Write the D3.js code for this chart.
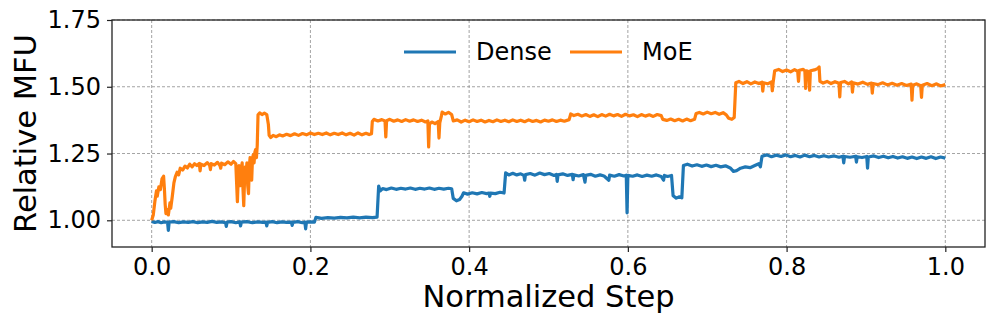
<!DOCTYPE html>
<html>
<head>
<meta charset="utf-8">
<script src="https://cdn.jsdelivr.net/npm/d3@7"></script>
<style>
  body { margin: 0; background: #fff; }
  svg { font-family: "DejaVu Sans", sans-serif; }
</style>
</head>
<body>
<script>
// values: [normalized step, relative MFU]
const dense = [
  [0.000,0.996],[0.004,0.992],[0.008,0.995],[0.012,0.991],[0.016,0.994],[0.020,0.992],[0.021,0.962],[0.022,0.993],
  [0.028,0.995],[0.034,0.991],[0.040,0.994],[0.046,0.992],[0.052,0.995],[0.058,0.991],[0.064,0.994],[0.070,0.992],
  [0.076,0.996],[0.082,0.992],[0.088,0.994],[0.093,0.991],[0.094,0.977],[0.095,0.993],[0.100,0.995],[0.106,0.991],
  [0.111,0.994],[0.112,0.979],[0.113,0.993],[0.120,0.995],[0.127,0.991],[0.134,0.994],[0.140,0.992],[0.144,0.993],
  [0.145,0.979],[0.146,0.992],[0.152,0.995],[0.158,0.991],[0.164,0.994],[0.170,0.992],[0.176,0.993],[0.177,0.981],
  [0.178,0.992],[0.184,0.995],[0.190,0.991],[0.193,0.993],[0.194,0.968],[0.195,0.993],[0.200,0.994],[0.205,0.993],
  [0.207,1.011],[0.214,1.007],[0.222,1.010],[0.230,1.008],[0.238,1.011],[0.246,1.009],[0.254,1.012],[0.262,1.009],
  [0.270,1.012],[0.278,1.010],[0.284,1.012],
  [0.286,1.128],[0.288,1.110],[0.291,1.119],[0.296,1.115],[0.302,1.121],[0.308,1.116],[0.314,1.120],[0.320,1.117],
  [0.326,1.121],[0.332,1.116],[0.338,1.120],[0.344,1.117],[0.350,1.121],[0.356,1.116],[0.362,1.120],[0.368,1.117],
  [0.374,1.120],[0.378,1.118],[0.380,1.082],[0.384,1.073],[0.388,1.078],[0.391,1.090],[0.393,1.103],[0.398,1.098],
  [0.404,1.103],[0.410,1.099],[0.416,1.104],[0.422,1.100],[0.425,1.102],[0.426,1.090],[0.427,1.102],[0.433,1.100],
  [0.439,1.105],[0.444,1.102],
  [0.446,1.178],[0.450,1.170],[0.455,1.176],[0.460,1.170],[0.465,1.174],[0.469,1.168],[0.470,1.150],[0.471,1.171],
  [0.477,1.175],[0.483,1.169],[0.489,1.177],[0.495,1.171],[0.501,1.175],[0.507,1.168],[0.510,1.172],[0.511,1.146],
  [0.512,1.170],[0.518,1.174],[0.524,1.168],[0.530,1.172],[0.531,1.152],[0.532,1.170],[0.538,1.166],[0.544,1.171],
  [0.546,1.143],[0.547,1.168],[0.553,1.172],[0.559,1.165],[0.565,1.170],[0.570,1.166],[0.576,1.150],[0.577,1.169],
  [0.583,1.165],[0.589,1.171],[0.595,1.166],[0.598,1.169],[0.599,1.028],[0.600,1.168],[0.606,1.165],[0.612,1.170],
  [0.618,1.164],[0.624,1.169],[0.630,1.165],[0.636,1.170],[0.642,1.164],[0.645,1.150],[0.646,1.168],[0.650,1.164],
  [0.655,1.168],
  [0.657,1.092],[0.661,1.083],[0.665,1.088],[0.668,1.084],[0.670,1.205],[0.675,1.210],[0.681,1.203],[0.687,1.208],
  [0.693,1.202],[0.699,1.207],[0.705,1.201],[0.711,1.206],[0.717,1.200],[0.723,1.204],[0.729,1.196],[0.733,1.183],
  [0.737,1.186],[0.742,1.195],[0.748,1.200],[0.754,1.197],[0.760,1.205],[0.765,1.212],[0.767,1.200],[0.769,1.240],
  [0.775,1.245],[0.781,1.238],[0.787,1.244],[0.793,1.239],[0.799,1.245],[0.805,1.238],[0.811,1.243],[0.817,1.237],
  [0.823,1.244],[0.829,1.238],[0.835,1.243],[0.841,1.237],[0.847,1.242],[0.853,1.237],[0.860,1.241],[0.866,1.236],
  [0.871,1.240],[0.872,1.215],[0.873,1.239],[0.880,1.236],[0.887,1.240],[0.888,1.218],[0.889,1.238],[0.895,1.235],
  [0.901,1.239],[0.902,1.195],[0.903,1.237],[0.910,1.241],[0.916,1.235],[0.922,1.240],[0.928,1.234],[0.934,1.239],
  [0.940,1.233],[0.946,1.238],[0.952,1.232],[0.958,1.237],[0.964,1.231],[0.970,1.237],[0.976,1.232],[0.982,1.238],
  [0.988,1.231],[0.994,1.237],[1.000,1.233]
];

const moe = [
  [0.000,1.000],[0.002,1.020],[0.004,1.070],[0.006,1.110],[0.007,1.090],[0.009,1.125],[0.011,1.115],[0.013,1.155],
  [0.015,1.165],[0.016,1.120],[0.017,1.060],[0.018,1.025],[0.020,1.040],[0.021,1.020],[0.023,1.065],[0.024,1.045],
  [0.026,1.090],[0.028,1.140],[0.030,1.165],[0.032,1.180],[0.034,1.170],[0.036,1.195],[0.039,1.188],[0.042,1.203],
  [0.045,1.196],[0.048,1.210],[0.051,1.200],[0.054,1.212],[0.057,1.205],[0.060,1.213],[0.061,1.185],[0.062,1.210],
  [0.066,1.205],[0.070,1.216],[0.073,1.206],[0.074,1.190],[0.075,1.212],[0.079,1.207],[0.083,1.217],[0.086,1.205],
  [0.087,1.195],[0.088,1.214],[0.092,1.208],[0.096,1.219],[0.100,1.210],[0.103,1.220],[0.106,1.212],[0.108,1.070],
  [0.109,1.150],[0.110,1.205],[0.111,1.180],[0.112,1.130],[0.113,1.195],[0.114,1.215],[0.115,1.120],[0.116,1.055],
  [0.117,1.150],[0.118,1.200],[0.119,1.170],[0.120,1.215],[0.121,1.130],[0.122,1.100],[0.123,1.200],[0.124,1.235],
  [0.125,1.180],[0.126,1.150],[0.127,1.230],[0.128,1.245],[0.129,1.215],[0.130,1.255],[0.131,1.265],[0.132,1.235],
  [0.133,1.280],[0.134,1.395],[0.136,1.402],[0.139,1.396],[0.142,1.401],[0.145,1.396],[0.147,1.360],[0.148,1.318],
  [0.150,1.310],[0.153,1.318],[0.157,1.313],[0.161,1.320],[0.165,1.316],[0.170,1.322],[0.175,1.317],[0.180,1.324],
  [0.185,1.318],[0.190,1.325],[0.195,1.320],[0.200,1.327],[0.205,1.321],[0.210,1.326],[0.215,1.321],[0.220,1.327],
  [0.225,1.320],[0.230,1.326],[0.235,1.321],[0.240,1.327],[0.245,1.320],[0.250,1.326],[0.255,1.319],[0.260,1.327],
  [0.265,1.320],[0.270,1.326],[0.274,1.321],[0.277,1.324],[0.278,1.370],[0.280,1.378],[0.285,1.372],[0.290,1.377],
  [0.294,1.372],[0.295,1.312],[0.296,1.373],[0.300,1.378],[0.305,1.371],[0.310,1.376],[0.315,1.370],[0.320,1.377],
  [0.325,1.371],[0.330,1.376],[0.335,1.370],[0.340,1.375],[0.345,1.368],[0.348,1.372],[0.349,1.275],[0.350,1.360],
  [0.353,1.368],[0.357,1.362],[0.361,1.370],[0.362,1.308],[0.363,1.365],[0.365,1.390],[0.366,1.405],[0.370,1.398],
  [0.374,1.404],[0.378,1.396],[0.380,1.372],[0.385,1.376],[0.390,1.368],[0.395,1.375],[0.400,1.369],[0.405,1.376],
  [0.410,1.370],[0.415,1.375],[0.420,1.368],[0.425,1.374],[0.430,1.369],[0.435,1.376],[0.440,1.370],[0.445,1.375],
  [0.450,1.369],[0.455,1.376],[0.460,1.370],[0.465,1.375],[0.470,1.369],[0.475,1.376],[0.480,1.370],[0.485,1.374],
  [0.490,1.368],[0.495,1.375],[0.500,1.371],[0.505,1.376],[0.510,1.370],[0.515,1.375],[0.520,1.371],[0.526,1.377],
  [0.528,1.398],[0.532,1.392],[0.537,1.397],[0.542,1.390],[0.547,1.396],[0.552,1.389],[0.557,1.395],[0.562,1.388],
  [0.567,1.396],[0.572,1.390],[0.577,1.397],[0.582,1.391],[0.587,1.396],[0.592,1.389],[0.597,1.397],[0.602,1.391],
  [0.607,1.395],[0.612,1.388],[0.617,1.396],[0.622,1.390],[0.627,1.395],[0.632,1.389],[0.637,1.396],[0.642,1.392],
  [0.644,1.378],[0.649,1.374],[0.654,1.379],[0.659,1.373],[0.664,1.378],[0.669,1.372],[0.674,1.379],[0.679,1.373],
  [0.684,1.378],[0.686,1.400],[0.690,1.404],[0.695,1.398],[0.700,1.405],[0.705,1.399],[0.710,1.404],[0.715,1.397],
  [0.720,1.403],[0.724,1.395],[0.727,1.382],[0.731,1.378],[0.734,1.385],[0.736,1.515],[0.740,1.520],[0.745,1.512],
  [0.750,1.519],[0.755,1.511],[0.760,1.518],[0.765,1.512],[0.769,1.517],[0.770,1.484],[0.771,1.515],[0.776,1.511],
  [0.781,1.518],[0.782,1.485],[0.783,1.515],[0.785,1.560],[0.790,1.565],[0.795,1.557],[0.800,1.563],[0.805,1.556],
  [0.810,1.564],[0.814,1.558],[0.815,1.520],[0.816,1.562],[0.821,1.565],[0.823,1.560],[0.824,1.494],[0.825,1.560],
  [0.828,1.556],[0.829,1.487],[0.830,1.560],[0.835,1.563],[0.839,1.568],[0.841,1.574],[0.842,1.520],[0.846,1.514],
  [0.851,1.520],[0.856,1.512],[0.861,1.519],[0.866,1.513],[0.867,1.462],[0.868,1.516],[0.873,1.520],[0.878,1.511],
  [0.882,1.518],[0.883,1.480],[0.884,1.515],[0.890,1.510],[0.896,1.517],[0.902,1.509],[0.907,1.514],[0.908,1.476],
  [0.909,1.512],[0.915,1.508],[0.921,1.515],[0.927,1.507],[0.933,1.513],[0.939,1.506],[0.945,1.512],[0.951,1.505],
  [0.957,1.510],[0.958,1.450],[0.959,1.506],[0.964,1.511],[0.969,1.504],[0.970,1.460],[0.971,1.506],[0.977,1.512],
  [0.983,1.504],[0.989,1.511],[0.994,1.503],[1.000,1.508]
];

const seriesNames = ["Dense", "MoE"];
const seriesColors = ["#1f77b4", "#ff7f0e"];
const xTicks = [0.0, 0.2, 0.4, 0.6, 0.8, 1.0];
const yTicks = [1.00, 1.25, 1.50, 1.75];

const width = 996, height = 328;
const margin = { top: 20, right: 11, bottom: 81, left: 112 };
const plotW = width - margin.left - margin.right;
const plotH = height - margin.top - margin.bottom;

const svg = d3.select("body").append("svg")
  .attr("width", width)
  .attr("height", height);

const x = d3.scaleLinear().domain([-0.05, 1.05]).range([0, plotW]);
const y = d3.scaleLinear().domain([0.9, 1.75]).range([plotH, 0]);

const g = svg.append("g")
  .attr("transform", `translate(${margin.left},${margin.top})`);

// grid
g.append("g").selectAll("line").data(xTicks).join("line")
  .attr("x1", d => x(d)).attr("x2", d => x(d))
  .attr("y1", 0).attr("y2", plotH)
  .attr("stroke", "#8c8c8c").attr("stroke-width", 0.8)
  .attr("stroke-dasharray", "3,2");
g.append("g").selectAll("line").data(yTicks).join("line")
  .attr("x1", 0).attr("x2", plotW)
  .attr("y1", d => y(d)).attr("y2", d => y(d))
  .attr("stroke", "#8c8c8c").attr("stroke-width", 0.8)
  .attr("stroke-dasharray", "3,2");

// lines
svg.append("defs").append("clipPath").attr("id", "clip")
  .append("rect").attr("width", plotW).attr("height", plotH);

const line = d3.line().x(d => x(d[0])).y(d => y(d[1]));

[dense, moe].forEach((data, i) => {
  g.append("path")
    .datum(data)
    .attr("clip-path", "url(#clip)")
    .attr("fill", "none")
    .attr("stroke", seriesColors[i])
    .attr("stroke-width", 3.2)
    .attr("stroke-linejoin", "round")
    .attr("d", line);
});

// axes
const xAxis = g.append("g")
  .attr("transform", `translate(0,${plotH})`)
  .call(d3.axisBottom(x).tickValues(xTicks).tickFormat(d3.format(".1f")).tickSize(5).tickPadding(6));
const yAxis = g.append("g")
  .call(d3.axisLeft(y).tickValues(yTicks).tickFormat(d3.format(".2f")).tickSize(5).tickPadding(6));

[xAxis, yAxis].forEach(ax => {
  ax.select(".domain").remove();
  ax.selectAll("line").attr("stroke", "#222").attr("stroke-width", 1.2);
  ax.selectAll("text")
    .attr("font-family", "DejaVu Sans")
    .attr("font-size", 24)
    .attr("fill", "#000");
});

// frame
g.append("rect")
  .attr("width", plotW).attr("height", plotH)
  .attr("fill", "none").attr("stroke", "#222").attr("stroke-width", 1.3);

// axis labels
svg.append("text")
  .attr("x", margin.left + x(0.5))
  .attr("y", 307)
  .attr("text-anchor", "middle")
  .attr("font-size", 30.5)
  .text("Normalized Step");

svg.append("text")
  .attr("transform", `translate(36,${margin.top + plotH / 2}) rotate(-90)`)
  .attr("text-anchor", "middle")
  .attr("font-size", 30.5)
  .text("Relative MFU");

// legend
const legend = svg.append("g").attr("transform", "translate(404,52)");
const legendX = [0, 166];
seriesNames.forEach((name, i) => {
  const item = legend.append("g").attr("transform", `translate(${legendX[i]},0)`);
  item.append("line")
    .attr("x1", 0).attr("x2", 52)
    .attr("stroke", seriesColors[i]).attr("stroke-width", 2.8);
  item.append("text")
    .attr("x", 72).attr("y", 0)
    .attr("dominant-baseline", "central")
    .attr("font-size", 24)
    .text(name);
});
</script>
</body>
</html>
